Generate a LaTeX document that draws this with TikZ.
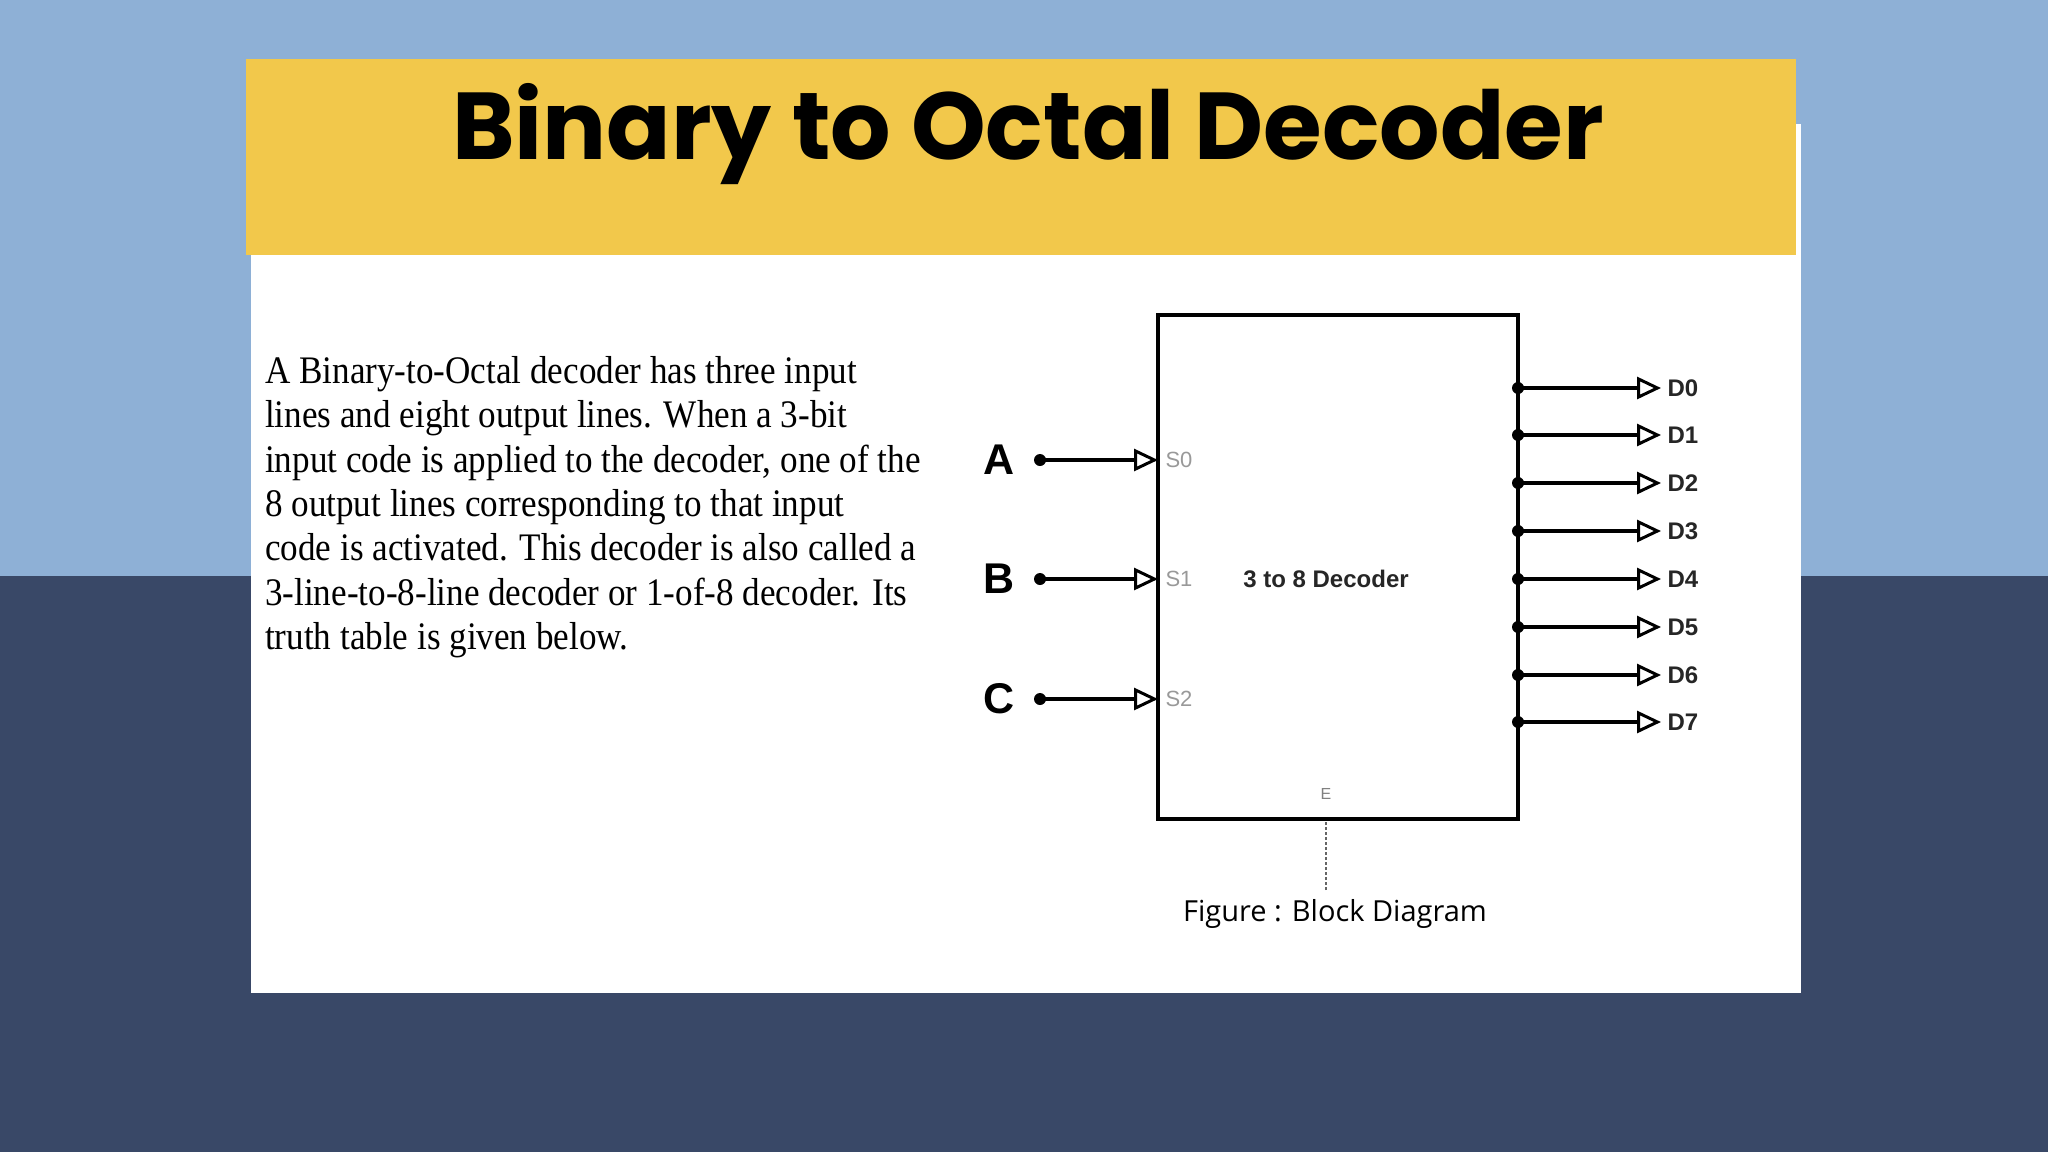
\documentclass[tikz,border=0pt]{standalone}
\usepackage{fontspec}
\setmainfont{Liberation Serif}
\setsansfont{Liberation Sans}
\newfontfamily\titlefont{Poppins}
\newfontfamily\capfont{Open Sans}
\usetikzlibrary{arrows.meta}
\definecolor{skyb}{HTML}{8EB0D6}
\definecolor{navyb}{HTML}{394867}
\definecolor{bannery}{HTML}{F2C84B}
\tikzset{x=1pt,y=-1pt,
 wire/.style={line width=3.4pt,-{Triangle[open,length=24pt,width=22pt,line width=3pt]}},
 pin/.style={circle,fill=black,inner sep=0pt,minimum size=12pt},
 dlab/.style={anchor=west,font=\fontsize{24}{26}\selectfont\sffamily\bfseries,text=black!85},
 slab/.style={anchor=west,font=\fontsize{22}{24}\selectfont\sffamily,text=black!40},
 inlab/.style={font=\fontsize{43}{45}\selectfont\sffamily\bfseries}}
\begin{document}
\begin{tikzpicture}
\useasboundingbox (0,0) rectangle (2048,1152);
\fill[skyb] (0,0) rectangle (2048,576);
\fill[navyb] (0,576) rectangle (2048,1152);
\fill[white] (251,124) rectangle (1801,993);
\fill[bannery] (246,59) rectangle (1796,255);
\node[font=\fontsize{95}{100}\selectfont\titlefont\bfseries] (title) at (1028,134) {Binary to Octal Decoder};
\node[anchor=north west,align=left,inner sep=0pt,font=\addfontfeatures{FakeStretch=0.9}\fontsize{39}{44.4}\selectfont] (para) at (265,356)
{A Binary-to-Octal decoder has three input\\lines and eight output lines. When a 3-bit\\input code is applied to the decoder, one of the\\8 output lines corresponding to that input\\code is activated. This decoder is also called a\\3-line-to-8-line decoder or 1-of-8 decoder. Its\\truth table is given below.};
\node[draw,line width=3.8pt,minimum width=360pt,minimum height=504pt,inner sep=0pt] (box) at (1338,567) {};
\node[font=\fontsize{24}{26}\selectfont\sffamily\bfseries,text=black!85] (dec) at (1326,579) {3 to 8 Decoder};
\foreach \n/\y/\l in {0/460/A,1/579/B,2/699/C}{
  \node[pin] (in\n) at (1040,\y) {};
  \node[inlab] (lab\n) at (999,\y) {\l};
  \coordinate (s\n) at (1158,\y);
  \draw[wire] (in\n.center) -- (s\n);
  \node[slab] (sl\n) at (1162,\y) {S\n};
}
\foreach \n/\y in {0/388,1/435,2/483,3/531,4/579,5/627,6/675,7/722}{
  \node[pin] (out\n) at (1518,\y) {};
  \coordinate (d\n) at (1661,\y);
  \draw[wire] (out\n.center) -- (d\n);
  \node[dlab] (dl\n) at (1664,\y) {D\n};
}
\node[font=\fontsize{16}{18}\selectfont\sffamily,text=black!50] (en) at (1326,794) {E};
\coordinate (ebot) at (1326,890);
\draw[black!60,line width=1.2pt,dash pattern=on 3pt off 2pt] (ebot) -- (box.south -| ebot);
\node[font=\fontsize{29}{32}\selectfont\capfont] (cap) at (1335,914) {Figure : Block Diagram};
\end{tikzpicture}
\end{document}
